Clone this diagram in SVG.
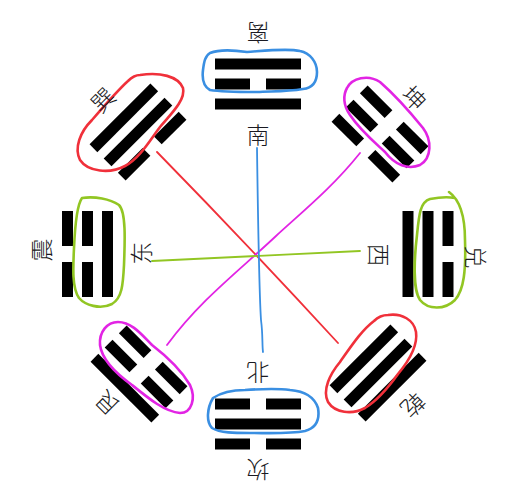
<svg xmlns="http://www.w3.org/2000/svg" xmlns:xlink="http://www.w3.org/1999/xlink" width="527" height="498" viewBox="0 0 527 498">
<style>
.lbl{font-family:"Noto Sans CJK SC","Noto Sans CJK JP",sans-serif;font-size:23px;font-weight:300;fill:#1a1a22;text-anchor:middle;dominant-baseline:central}
.out{fill:none;stroke-width:2.6;stroke-linecap:round;stroke-linejoin:round}
.red{stroke:#f0303a}.mag{stroke:#e224e4}.grn{stroke:#92c623}.blu{stroke:#3a8fe2}
.ln{fill:none;stroke-width:1.8;stroke-linecap:round}
</style>
<defs>
<rect id="yang" x="-43" y="-5.5" width="86" height="11" fill="#000"/>
<g id="yin" fill="#000"><rect x="-43" y="-5.5" width="35" height="11"/><rect x="8" y="-5.5" width="35" height="11"/></g>
</defs>
<rect width="527" height="498" fill="#fff"/>
<g id="connectors">
<path class="ln red" d="M157,152 Q248,245 338,343"/>
<path class="ln mag" d="M360,153 C332,188 302,212 276,236 C240,270 200,300 167,345"/>
<path class="ln grn" d="M152,261 L360,251"/>
<path class="ln blu" d="M257,148 C258,220 259,290 261,320 C263,335 262,345 263,352"/>
</g>
<g id="li">
<g transform="translate(258,84)"><use href="#yang" y="-20"/><use href="#yin"/><use href="#yang" y="20"/></g>
<path class="out blu" d="M210,53 C220,49 233,50 247,52 C262,51 287,48 300,51 C310,53 317,62 317,72 C317,82 312,88 303,89 C285,92 270,91 257,92 C240,92 222,92 210,90 C203,86 202,78 203,70 C204,62 205,56 210,53 Z"/>
<text class="lbl" x="258" y="34" transform="rotate(180 258 34)">离</text>
<text class="lbl" x="258" y="134">南</text>
</g>
<g id="kan">
<g transform="translate(258,424) rotate(180)"><use href="#yin" y="-20"/><use href="#yang"/><use href="#yin" y="20"/></g>
<path class="out blu" d="M213,398 C222,392 232,390 245,390 C260,389 275,388 290,390 C303,391 314,396 318,408 C320,420 316,428 305,431 C290,434 270,433 250,433 C235,433 220,433 212,428 C206,422 207,408 213,398 Z"/>
<text class="lbl" x="258" y="374" transform="rotate(180 258 374)">北</text>
<text class="lbl" x="258" y="471" transform="rotate(180 258 471)">坎</text>
</g>
<g id="zhen">
<g transform="translate(87.5,254) rotate(-90)"><use href="#yin" y="-20"/><use href="#yin"/><use href="#yang" y="20"/></g>
<path class="out grn" d="M82,198 C95,196 110,199 119,205 C126,212 125,240 124,265 C123,285 122,298 112,304 C100,310 85,305 79,298 C72,288 73,268 74,248 C75,225 77,205 82,198 Z"/>
<text class="lbl" x="40" y="250" transform="rotate(-90 40 250)">震</text>
<text class="lbl" x="140" y="253" transform="rotate(-90 140 253)">东</text>
</g>
<g id="dui">
<g transform="translate(428,254) rotate(90)"><use href="#yin" y="-20"/><use href="#yang"/><use href="#yang" y="20"/></g>
<path class="out grn" d="M449,192 C460,200 465,215 465,240 C466,270 464,290 455,300 C445,310 428,310 420,300 C413,290 414,260 417,235 C419,215 420,202 430,199 C440,197 450,197 455,198"/>
<text class="lbl" x="477" y="257" transform="rotate(90 477 257)">兑</text>
<text class="lbl" x="380" y="255" transform="rotate(90 380 255)">西</text>
</g>
<g id="xun">
<g transform="translate(138,132) rotate(-45)"><use href="#yang" y="-20"/><use href="#yang"/><use href="#yin" y="20"/></g>
<path class="out red" d="M140,75 C160,72 178,76 183,88 C186,100 170,115 160,127 C150,140 140,158 125,166 C110,174 88,172 80,160 C74,148 80,132 92,120 C105,105 118,90 128,81 C132,77 136,75 140,75 Z"/>
<text class="lbl" x="102" y="99" transform="rotate(-45 102 99)">巽</text>
</g>
<g id="kun">
<g transform="translate(380,134) rotate(45)"><use href="#yin" y="-20"/><use href="#yin"/><use href="#yin" y="20"/></g>
<path class="out mag" d="M347,88 C352,78 368,74 380,82 C395,95 410,112 423,128 C432,140 432,158 420,165 C408,170 395,165 385,152 C372,140 360,130 350,115 C343,105 343,95 347,88 Z"/>
<text class="lbl" x="415" y="97" transform="rotate(45 415 97)">坤</text>
</g>
<g id="gen">
<g transform="translate(139,374) rotate(-135)"><use href="#yang" y="-20"/><use href="#yin"/><use href="#yin" y="20"/></g>
<path class="out mag" d="M118,322 C107,322 99,332 100,345 C102,360 118,375 132,385 C148,398 165,412 180,413 C192,413 196,398 190,385 C180,368 165,355 152,345 C142,335 132,322 118,322 Z"/>
<text class="lbl" x="106" y="404" transform="rotate(-135 106 404)">艮</text>
</g>
<g id="qian">
<g transform="translate(378,373) rotate(135)"><use href="#yang" y="-20"/><use href="#yang"/><use href="#yang" y="20"/></g>
<path class="out red" d="M388,315 C402,313 414,320 416,332 C418,346 408,362 398,374 C388,388 378,400 365,408 C352,415 335,413 328,402 C322,390 330,374 340,362 C352,345 362,330 374,321 C378,317 383,315 388,315 Z"/>
<text class="lbl" x="414" y="406" transform="rotate(135 414 406)">乾</text>
</g>
</svg>
